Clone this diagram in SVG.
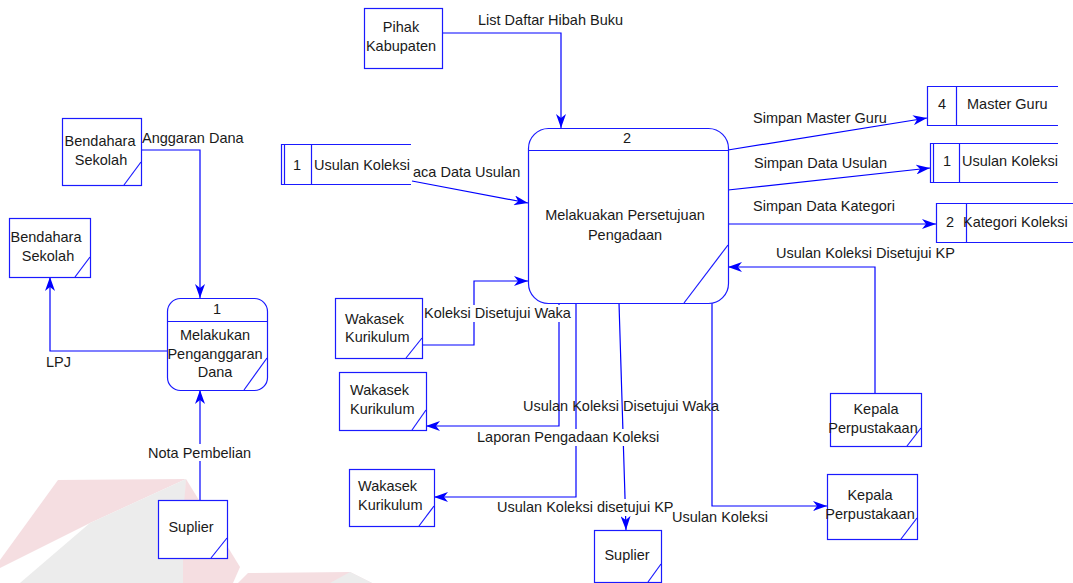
<svg xmlns="http://www.w3.org/2000/svg" width="1073" height="583" viewBox="0 0 1073 583">
  <style>
    .box { fill: #ffffff; stroke: #1a1aff; stroke-width: 1.2; }
    .edge { fill: none; stroke: #1a1aff; stroke-width: 1.2; }
    .flow { fill: none; stroke: #0000ff; stroke-width: 1.2; marker-end: url(#arr); }
    .line { fill: none; stroke: #0000ff; stroke-width: 1.2; }
    .t { font-family: "Liberation Sans", Arial, sans-serif; font-size: 14.5px; fill: #1a1a1a; }
    .c { text-anchor: middle; }
    .bg { fill: #ffffff; }
  </style>
  <defs>
    <marker id="arr" viewBox="0 0 14 10" refX="14" refY="5" markerWidth="14" markerHeight="10" markerUnits="userSpaceOnUse" orient="auto">
      <path d="M0,0 L14,5 L0,10 L4,5 Z" fill="#0000ff"/>
    </marker>
  </defs>

  <rect width="1073" height="583" fill="#ffffff"/>

  <!-- faint logo in the background -->
  <g id="watermark" opacity="0.75">
    <polygon points="58,480 186,479 90,523 0,568 0,560" fill="#f2d3d8"/>
    <polygon points="186,479 90,523 20,583 183,583" fill="#e6e6e6"/>
    <polygon points="186,479 240,567 233,583 183,583 183,517" fill="#f2d3d8"/>
    <polygon points="238,583 248,573 350,572 372,583" fill="#f2d3d8"/>
    <polygon points="350,572 372,583 330,583" fill="#e6e6e6"/>
  </g>

  <!-- data flows -->
  <g id="connectors">
    <path class="flow" d="M442,33 H561 V128"/>
    <path class="flow" d="M412,181 L528,203"/>
    <path class="flow" d="M728,150 L927,118"/>
    <path class="flow" d="M728,190 L930,168"/>
    <path class="flow" d="M728,224 H936"/>
    <path class="flow" d="M875,393 V267 H728"/>
    <path class="flow" d="M422,345 H474 V281 H528"/>
    <path class="flow" d="M559,303 V426 H426"/>
    <path class="flow" d="M576,303 V497 H434"/>
    <path class="flow" d="M619,303 L626,530"/>
    <path class="flow" d="M712,303 V506 H827"/>
    <path class="flow" d="M141,150 H200 V298"/>
    <path class="flow" d="M168,351 H50 V277"/>
    <path class="flow" d="M200,500 V390"/>

    <!-- flow labels -->
    <text class="t" x="478" y="25">List Daftar Hibah Buku</text>
    <text class="t" x="413" y="177">aca Data Usulan</text>
    <text class="t" x="753" y="123">Simpan Master Guru</text>
    <text class="t" x="754" y="168">Simpan Data Usulan</text>
    <text class="t" x="753" y="211">Simpan Data Kategori</text>
    <text class="t" x="776" y="258">Usulan Koleksi Disetujui KP</text>
    <rect class="bg" x="423" y="305" width="150" height="17"/>
    <text class="t" x="424" y="318">Koleksi Disetujui Waka</text>
    <text class="t" x="523" y="411">Usulan Koleksi Disetujui Waka</text>
    <rect class="bg" x="476" y="429" width="184" height="17"/>
    <text class="t" x="477" y="442">Laporan Pengadaan Koleksi</text>
    <rect class="bg" x="496" y="499" width="178" height="17"/>
    <text class="t" x="497" y="512">Usulan Koleksi disetujui KP</text>
    <text class="t" x="672" y="522">Usulan Koleksi</text>
    <text class="t" x="142" y="143">Anggaran Dana</text>
    <text class="t" x="46" y="367">LPJ</text>
    <rect class="bg" x="147" y="444" width="105" height="17"/>
    <text class="t" x="148" y="458">Nota Pembelian</text>
  </g>

  <!-- processes -->
  <g id="proc-2">
    <rect class="box" x="528.5" y="128.5" width="200" height="175" rx="20" ry="20"/>
    <line class="edge" x1="528.5" y1="150.5" x2="728.5" y2="150.5"/>
    <line class="edge" x1="728" y1="245" x2="684" y2="303"/>
    <text class="t c" x="627" y="143">2</text>
    <text class="t c" x="625" y="220">Melakuakan Persetujuan</text>
    <text class="t c" x="625" y="240">Pengadaan</text>
  </g>

  <g id="proc-1">
    <rect class="box" x="167.5" y="298.5" width="100" height="92" rx="13" ry="13"/>
    <line class="edge" x1="167.5" y1="321.5" x2="267.5" y2="321.5"/>
    <line class="edge" x1="267" y1="358" x2="244" y2="390"/>
    <text class="t c" x="217" y="314">1</text>
    <text class="t c" x="215" y="340">Melakukan</text>
    <text class="t c" x="215" y="359">Penganggaran</text>
    <text class="t c" x="215" y="377">Dana</text>
  </g>

  <!-- data stores -->
  <g id="store-usulan-left">
    <path class="edge" d="M411,144.5 H281.5 V184.5 H411"/>
    <line class="edge" x1="284.5" y1="144.5" x2="284.5" y2="184.5"/>
    <line class="edge" x1="311.5" y1="144.5" x2="311.5" y2="184.5"/>
    <text class="t c" x="297" y="170">1</text>
    <text class="t" x="314" y="170">Usulan Koleksi</text>
  </g>

  <g id="store-master-guru">
    <path class="edge" d="M1058,86.5 H927.5 V125.5 H1058"/>
    <line class="edge" x1="956.5" y1="86.5" x2="956.5" y2="125.5"/>
    <text class="t c" x="942" y="109">4</text>
    <text class="t" x="967" y="109">Master Guru</text>
  </g>

  <g id="store-usulan-right">
    <path class="edge" d="M1058,143.5 H930.5 V182.5 H1058"/>
    <line class="edge" x1="933.5" y1="143.5" x2="933.5" y2="182.5"/>
    <line class="edge" x1="959.5" y1="143.5" x2="959.5" y2="182.5"/>
    <text class="t c" x="947" y="166">1</text>
    <text class="t" x="962" y="166">Usulan Koleksi</text>
  </g>

  <g id="store-kategori">
    <path class="edge" d="M1073,203.5 H936.5 V242.5 H1073"/>
    <line class="edge" x1="966.5" y1="203.5" x2="966.5" y2="242.5"/>
    <text class="t c" x="950" y="227">2</text>
    <text class="t" x="963" y="227">Kategori Koleksi</text>
  </g>

  <!-- external entities -->
  <g id="ent-pihak-kabupaten">
    <rect class="box" x="364.5" y="8.5" width="78" height="60"/>
    <text class="t c" x="401" y="32">Pihak</text>
    <text class="t c" x="401" y="51">Kabupaten</text>
  </g>

  <g id="ent-bendahara-1">
    <rect class="box" x="62.5" y="118.5" width="79" height="67"/>
    <line class="edge" x1="141" y1="162" x2="124" y2="185"/>
    <text class="t c" x="100" y="146">Bendahara</text>
    <text class="t c" x="101" y="165">Sekolah</text>
  </g>

  <g id="ent-bendahara-2">
    <rect class="box" x="9.5" y="218.5" width="81" height="59"/>
    <line class="edge" x1="90" y1="257" x2="75" y2="277"/>
    <text class="t c" x="46" y="242">Bendahara</text>
    <text class="t c" x="48" y="261">Sekolah</text>
  </g>

  <g id="ent-suplier-1">
    <rect class="box" x="158.5" y="500.5" width="69" height="58"/>
    <line class="edge" x1="227" y1="538" x2="211" y2="558"/>
    <text class="t c" x="191" y="532">Suplier</text>
  </g>

  <g id="ent-wakasek-1">
    <rect class="box" x="335.5" y="298.5" width="87" height="60"/>
    <line class="edge" x1="422" y1="338" x2="406" y2="358"/>
    <text class="t" x="345" y="324">Wakasek</text>
    <text class="t" x="345" y="342">Kurikulum</text>
  </g>

  <g id="ent-wakasek-2">
    <rect class="box" x="339.5" y="372.5" width="87" height="58"/>
    <line class="edge" x1="426" y1="410" x2="412" y2="430"/>
    <text class="t" x="350" y="395">Wakasek</text>
    <text class="t" x="350" y="414">Kurikulum</text>
  </g>

  <g id="ent-wakasek-3">
    <rect class="box" x="349.5" y="469.5" width="85" height="57"/>
    <line class="edge" x1="434" y1="506" x2="419" y2="526"/>
    <text class="t" x="358" y="491">Wakasek</text>
    <text class="t" x="358" y="510">Kurikulum</text>
  </g>

  <g id="ent-kepala-1">
    <rect class="box" x="830.5" y="393.5" width="91" height="53"/>
    <line class="edge" x1="921" y1="428" x2="907" y2="446"/>
    <text class="t c" x="876" y="414">Kepala</text>
    <text class="t c" x="873" y="433">Perpustakaan</text>
  </g>

  <g id="ent-kepala-2">
    <rect class="box" x="827.5" y="474.5" width="90" height="65"/>
    <line class="edge" x1="917" y1="518" x2="901" y2="539"/>
    <text class="t c" x="870" y="500">Kepala</text>
    <text class="t c" x="870" y="519">Perpustakaan</text>
  </g>

  <g id="ent-suplier-2">
    <rect class="box" x="594.5" y="530.5" width="67" height="52"/>
    <line class="edge" x1="661" y1="564" x2="648" y2="582"/>
    <text class="t c" x="627" y="560">Suplier</text>
  </g>
</svg>
